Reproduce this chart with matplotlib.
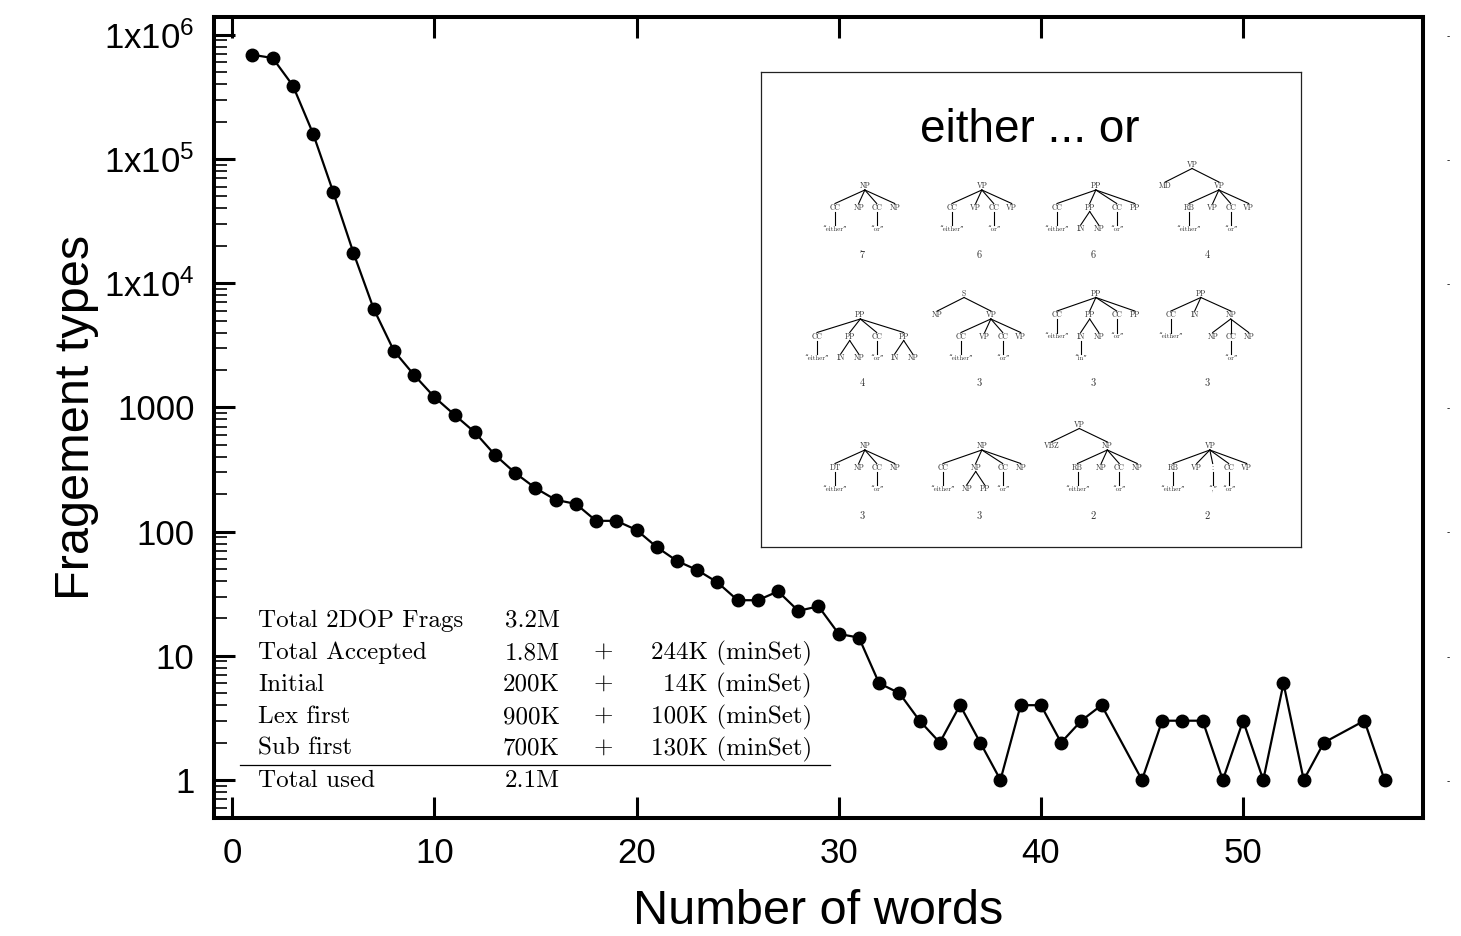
import numpy as np
import matplotlib
matplotlib.use('Agg')
import matplotlib.pyplot as plt
from matplotlib.lines import Line2D
from matplotlib.ticker import LogLocator, MultipleLocator, NullFormatter

# fragment types per sentence length
words = list(range(1, 44)) + list(range(45, 55)) + [56, 57]
frag_types = [690000, 650000, 390000, 160000, 54000, 17500, 6200, 2850, 1820, 1210,
              870, 630, 414, 296, 224, 180, 167, 122, 122, 103,
              75, 58, 49, 39, 28, 28, 33, 23, 25, 15,
              14, 6, 5, 3, 2, 4, 2, 1, 4, 4,
              2, 3, 4,
              1, 3, 3, 3, 1, 3, 1, 6, 1, 2,
              3, 1]

ytick_vals = [1, 10, 100, 1000, 1e4, 1e5, 1e6]
ytick_labels = ['1', '10', '100', '1000', '1x10$^{4}$', '1x10$^{5}$', '1x10$^{6}$']

# summary table
row_names = ['Total 2DOP Frags', 'Total Accepted', 'Initial', 'Lex first', 'Sub first', 'Total used']
row_main = ['3.2M', '1.8M', '200K', '900K', '700K', '2.1M']
row_plus = ['', '+', '+', '+', '+', '']
row_minset = ['', '244K (minSet)', '14K (minSet)', '100K (minSet)', '130K (minSet)', '']

# either ... or fragments with their counts
tree_strings = [
    '(NP (CC either) (NP) (CC or) (NP))',
    '(VP (CC either) (VP) (CC or) (VP))',
    '(PP (CC either) (PP (IN) (NP)) (CC or) (PP))',
    '(VP (MD) (VP (RB either) (VP) (CC or) (VP)))',
    '(PP (CC either) (PP (IN) (NP)) (CC or) (PP (IN) (NP)))',
    '(S (NP) (VP (CC either) (VP) (CC or) (VP)))',
    '(PP (CC either) (PP (IN in) (NP)) (CC or) (PP))',
    '(PP (CC either) (IN) (NP (NP) (CC or) (NP)))',
    '(NP (DT either) (NP) (CC or) (NP))',
    '(NP (CC either) (NP (NP) (PP)) (CC or) (NP))',
    '(VP (VBZ) (NP (RB either) (NP) (CC or) (NP)))',
    '(VP (RB either) (VP) (: ,) (CC or) (VP))',
]
tree_counts = [7, 6, 6, 4, 4, 3, 3, 3, 3, 3, 2, 2]

plt.rcParams['font.family'] = ['Liberation Sans', 'DejaVu Sans']
plt.rcParams['mathtext.default'] = 'regular'

W, H = 1461, 936
fig = plt.figure(figsize=(W / 100, H / 100), dpi=100)
ax = fig.add_axes([214 / W, 1 - 818 / H, (1423 - 214) / W, (818 - 17) / H])

ax.plot(words, frag_types, color='black', lw=1.6, marker='o', ms=9, zorder=3)
ax.set_yscale('log')
ax.set_xlim(-0.9, 58.9)
ax.set_ylim(0.494, 1.39e6)
ax.xaxis.set_major_locator(MultipleLocator(10))
ax.xaxis.set_minor_locator(MultipleLocator(2))
ax.set_yticks(ytick_vals, ytick_labels)
ax.yaxis.set_minor_locator(LogLocator(base=10, subs=np.arange(2, 10), numticks=20))
ax.yaxis.set_minor_formatter(NullFormatter())
ax.tick_params(which='both', direction='in', top=True, right=True, labelsize=25)
ax.tick_params(which='major', length=15, width=2.2, pad=14)
ax.tick_params(which='minor', length=9, width=1.2)
for s in ax.spines.values():
    s.set_linewidth(2.9)
ax.set_xlabel('Number of words', fontsize=35, labelpad=13)
ax.set_ylabel('Fragement types', fontsize=35, labelpad=4)

# little marks to the right of the frame
ax2 = ax.twinx()
ax2.set_yscale('log')
ax2.set_ylim(ax.get_ylim())
ax2.set_yticks(ytick_vals, ['-'] * len(ytick_vals))
ax2.minorticks_off()
ax2.tick_params(length=0, labelsize=7, pad=17)
for s in ax2.spines.values():
    s.set_visible(False)

# table in the lower left
cm = ['cmr10', 'DejaVu Serif']
baselines = [0.2385, 0.1985, 0.1586, 0.1186, 0.0787, 0.0387]
for i, yb in enumerate(baselines):
    ax.text(0.0364, yb, row_names[i], transform=ax.transAxes, family=cm, fontsize=18, va='baseline')
    ax.text(0.2862, yb, row_main[i], transform=ax.transAxes, family=cm, fontsize=18, va='baseline', ha='right')
    if row_plus[i]:
        ax.text(0.3217, yb, row_plus[i], transform=ax.transAxes, family=cm, fontsize=18, va='baseline', ha='center')
    if row_minset[i]:
        ax.text(0.4946, yb, row_minset[i], transform=ax.transAxes, family=cm, fontsize=18, va='baseline', ha='right')
ax.add_line(Line2D([0.0215, 0.5095], [0.0662, 0.0662], transform=ax.transAxes, color='black', lw=0.9))

# inset with the trees
axi = fig.add_axes([761 / W, 1 - 547 / H, 540 / W, 475 / H])
axi.set_xlim(0, 540)
axi.set_ylim(475, 0)
axi.set_xticks([])
axi.set_yticks([])
for s in axi.spines.values():
    s.set_linewidth(0.9)
    s.set_color('#222222')
axi.text(269, 58, 'either ... or', fontsize=33, ha='center', va='center')

GAP = 8
DY = 21.5


def parse(s):
    toks = s.replace('(', ' ( ').replace(')', ' ) ').split()
    pos = 0

    def rec():
        nonlocal pos
        pos += 1
        node = {'label': toks[pos], 'kids': [], 'word': None}
        pos += 1
        while toks[pos] != ')':
            if toks[pos] == '(':
                node['kids'].append(rec())
            else:
                node['word'] = toks[pos]
                pos += 1
        pos += 1
        return node
    return rec()


def tw(s):
    return sum(5.0 if c.isupper() else 2.0 if c in '“”,:' else 2.9 for c in s)


def width(n):
    own = tw(n['label'])
    if n['word']:
        own = max(own, tw('“' + n['word'] + '”'))
    if n['kids']:
        kw = sum(width(k) for k in n['kids']) + GAP * (len(n['kids']) - 1)
        own = max(own, kw)
    return own


def depth(n):
    if n['kids']:
        return 1 + max(depth(k) for k in n['kids'])
    return 1 if n['word'] else 0


def place(n, left, lvl):
    w = width(n)
    n['lvl'] = lvl
    if n['kids']:
        kw = sum(width(k) for k in n['kids']) + GAP * (len(n['kids']) - 1)
        x = left + (w - kw) / 2
        cs = []
        for k in n['kids']:
            cs.append(place(k, x, lvl + 1))
            x += width(k) + GAP
        n['x'] = (cs[0] + cs[-1]) / 2
    else:
        n['x'] = left + w / 2
    return n['x']


def draw(n, ybot, hgt):
    y = ybot - (hgt - n['lvl']) * DY
    axi.text(n['x'], y, n['label'], ha='center', va='center', fontsize=5.5, family=cm, color='#333333')
    if n['word']:
        axi.plot([n['x'], n['x']], [y + 4, y + DY - 4], color='black', lw=0.8)
        axi.text(n['x'], y + DY, '“' + n['word'] + '”', ha='center', va='center', fontsize=5,
                 family=cm, color='#333333')
    for k in n['kids']:
        yk = ybot - (hgt - k['lvl']) * DY
        axi.plot([n['x'], k['x']], [y + 4, yk - 4], color='black', lw=0.8)
        draw(k, ybot, hgt)


col_x = [101, 218, 332, 446]
row_bottom = [157, 286, 417]
row_num = [183, 311, 444]
for i, s in enumerate(tree_strings):
    r, c = divmod(i, 4)
    root = parse(s)
    w = width(root)
    place(root, col_x[c] - w / 2, 0)
    draw(root, row_bottom[r], depth(root))
    axi.text(col_x[c], row_num[r], str(tree_counts[i]), ha='center', va='center', fontsize=7.5,
             family=cm, color='#333333')

fig.savefig('out.png', dpi=100)
